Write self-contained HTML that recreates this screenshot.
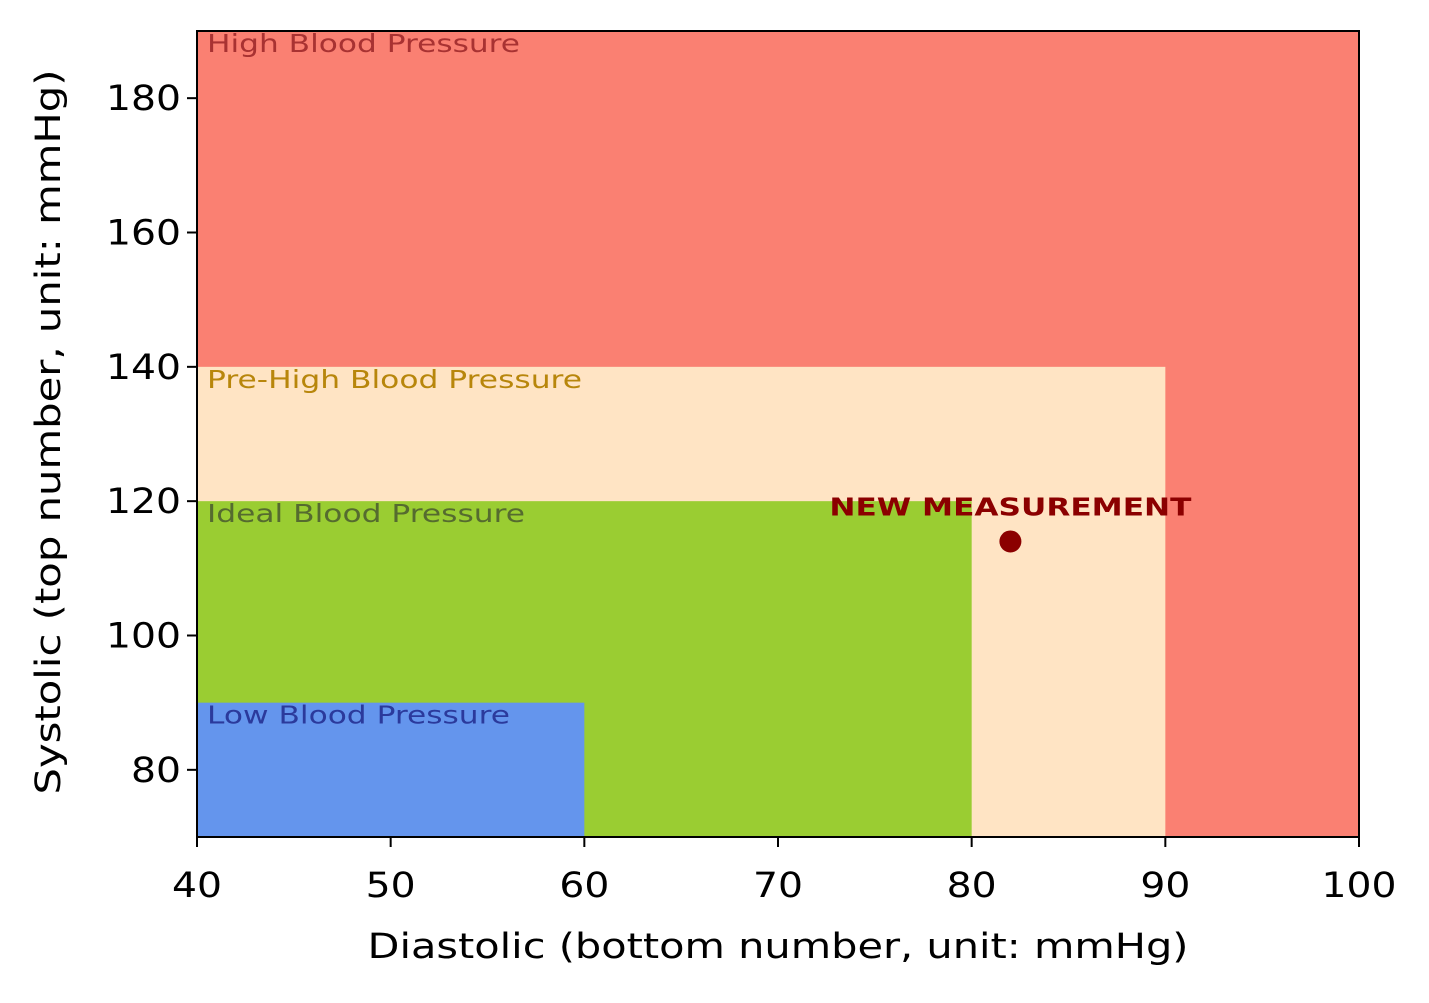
<!DOCTYPE html>
<html><head><meta charset="utf-8"><style>
body{margin:0;background:#fff;}
svg text{font-family:"DejaVu Sans","Liberation Sans",sans-serif;}
</style></head><body>
<svg id="chart" width="1429" height="998" xmlns="http://www.w3.org/2000/svg"></svg>
<script>
const zoneNames=["High Blood Pressure","Pre-High Blood Pressure","Ideal Blood Pressure","Low Blood Pressure"];
const zoneXMax=[100,90,80,60];
const zoneYMax=[190,140,120,90];
const zoneFill=["#fa8072","#ffe4c4","#9acd32","#6495ed"];
const zoneText=["#a83232","#b8860b","#556b2f","#2b3a9c"];
const pointX=[82];
const pointY=[114];
const xTicks=[40,50,60,70,80,90,100];
const yTicks=[80,100,120,140,160,180];
const L=197,R=1359,T=31,B=837,xmin=40,xmax=100,ymin=70,ymax=190;
const sx=v=>L+(v-xmin)/(xmax-xmin)*(R-L);
const sy=v=>B-(v-ymin)/(ymax-ymin)*(B-T);
const svg=document.getElementById('chart');
const NS="http://www.w3.org/2000/svg";
function mk(t,a,txt){const e=document.createElementNS(NS,t);for(const k in a)e.setAttribute(k,a[k]);if(txt!==undefined)e.textContent=txt;svg.appendChild(e);return e;}
const labelW=[313,375,318,303];
zoneNames.forEach((n,i)=>{
 const r=mk('rect',{x:sx(xmin),y:sy(zoneYMax[i]),width:sx(zoneXMax[i])-sx(xmin),height:sy(ymin)-sy(zoneYMax[i]),fill:zoneFill[i]});
 
 
 const t=mk('text',{x:sx(xmin)+10,y:sy(zoneYMax[i])+21,'font-size':25,fill:zoneText[i],textLength:labelW[i],lengthAdjust:'spacingAndGlyphs'},n);
 
 
});
pointX.forEach((px,i)=>{
 const c=mk('circle',{cx:sx(px),cy:sy(pointY[i]),r:11,fill:'#8b0000'});
 
 
 const t=mk('text',{x:sx(px),y:sy(pointY[i])-26,'font-size':25,'font-weight':'bold',fill:'#8b0000','text-anchor':'middle',textLength:362,lengthAdjust:'spacingAndGlyphs'},'NEW MEASUREMENT');
 
 
});
const f=mk('rect',{x:L,y:T,width:R-L,height:B-T,fill:'none',stroke:'#000','stroke-width':2});


xTicks.forEach(v=>{
 mk('line',{x1:sx(v),x2:sx(v),y1:B,y2:B+10,stroke:'#000','stroke-width':2});
 const s=String(v);
 const t=mk('text',{x:sx(v),y:B+60,'font-size':35,'text-anchor':'middle',textLength:s.length*25,lengthAdjust:'spacingAndGlyphs'},s);
 
 
});
yTicks.forEach(v=>{
 mk('line',{x1:L-10,x2:L,y1:sy(v),y2:sy(v),stroke:'#000','stroke-width':2});
 const s=String(v);
 const t=mk('text',{x:L-16,y:sy(v)+12,'font-size':35,'text-anchor':'end',textLength:s.length*25,lengthAdjust:'spacingAndGlyphs'},s);
 
 
});
const xt=mk('text',{x:778,y:958,'font-size':35,'text-anchor':'middle',textLength:821,lengthAdjust:'spacingAndGlyphs'},'Diastolic (bottom number, unit: mmHg)');


const yt=mk('text',{x:0,y:0,'font-size':35,'text-anchor':'middle',textLength:725,lengthAdjust:'spacingAndGlyphs',transform:'translate(60,432) rotate(-90)'},'Systolic (top number, unit: mmHg)');


</script>
</body></html>
